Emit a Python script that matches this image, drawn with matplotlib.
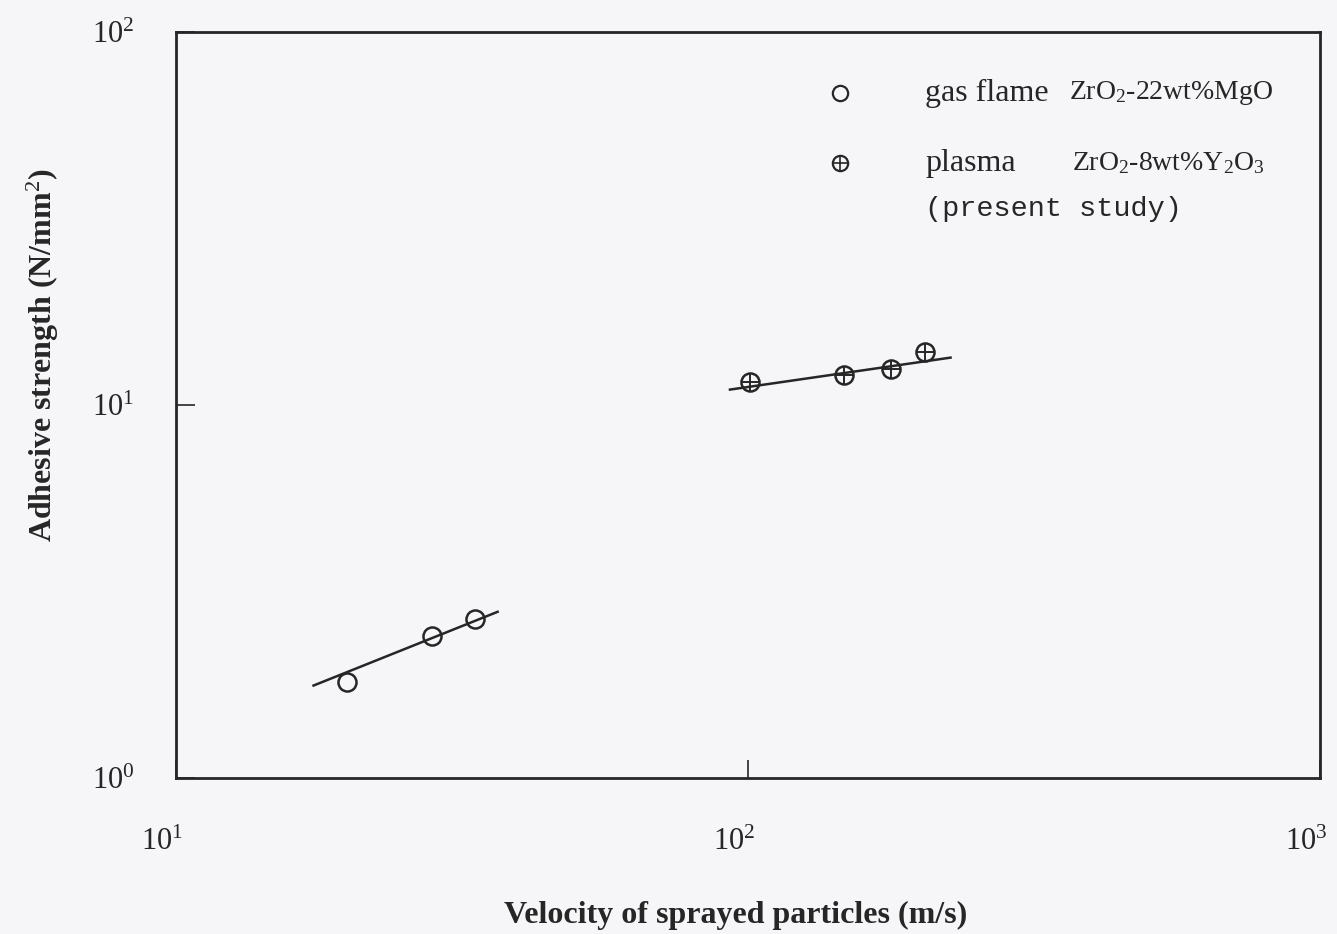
import matplotlib
matplotlib.use("Agg")
import matplotlib.pyplot as plt
import matplotlib.transforms as mtransforms

plt.rcParams['font.family'] = ['Liberation Serif', 'DejaVu Serif']
plt.rcParams['mathtext.fontset'] = 'custom'
plt.rcParams['mathtext.rm'] = 'Liberation Serif'
plt.rcParams['mathtext.it'] = 'Liberation Serif:italic'
plt.rcParams['mathtext.bf'] = 'Liberation Serif:bold'

# gas flame ZrO2-22wt%MgO
gas_v = [19.9, 28.0, 33.3]
gas_s = [1.81, 2.40, 2.67]
gas_fit_v = [17.4, 36.5]
gas_fit_s = [1.77, 2.79]

# plasma ZrO2-8wt%Y2O3 (present study)
plasma_v = [101, 147, 178, 204]
plasma_s = [11.5, 12.0, 12.5, 13.9]
plasma_fit_v = [93, 226]
plasma_fit_s = [11.0, 13.4]

ink = '#262626'
paper = '#f6f6f8'

fig = plt.figure(figsize=(13.37, 9.34), dpi=100, facecolor=paper)
ax = fig.add_axes([0.1316, 0.167, 0.8557, 0.7987], facecolor=paper)
ax.set_xscale('log')
ax.set_yscale('log')
ax.set_xlim(10, 1000)
ax.set_ylim(1, 100)

# fitted lines
ax.plot(gas_fit_v, gas_fit_s, color=ink, lw=1.8)
ax.plot(plasma_fit_v, plasma_fit_s, color=ink, lw=1.8)

# data points
ax.plot(gas_v, gas_s, 'o', ms=13, mfc='none', mec=ink, mew=1.8)
ax.plot(plasma_v, plasma_s, 'o', ms=13, mfc='none', mec=ink, mew=1.8)
ax.plot(plasma_v, plasma_s, '+', ms=13, mec=ink, mew=1.4)

for s in ax.spines.values():
    s.set_linewidth(2.0)
    s.set_color(ink)

ax.set_xticks([10, 100, 1000])
ax.set_xticklabels(['10$^1$', '10$^2$', '10$^3$'])
ax.set_yticks([1, 10, 100])
ax.set_yticklabels(['10$^0$', '10$^1$', '10$^2$'])
ax.minorticks_off()
ax.tick_params(axis='x', direction='in', length=13, width=1.2, color=ink,
               labelsize=22, pad=36, labelcolor=ink)
ax.tick_params(axis='y', direction='in', length=14, width=1.2, color=ink,
               labelsize=22, pad=30, labelcolor=ink)

# x tick labels sit a little left of their ticks in the original
shift = mtransforms.ScaledTranslation(-14 / 100, 0, fig.dpi_scale_trans)
for lab in ax.get_xticklabels():
    lab.set_transform(lab.get_transform() + shift)

# legend
ax.plot([0.580], [0.918], 'o', ms=11, mfc='none', mec=ink, mew=1.6,
        transform=ax.transAxes, clip_on=False)
ax.plot([0.580], [0.824], 'o', ms=11, mfc='none', mec=ink, mew=1.6,
        transform=ax.transAxes, clip_on=False)
ax.plot([0.580], [0.824], '+', ms=11, mec=ink, mew=1.2,
        transform=ax.transAxes, clip_on=False)
ax.text(0.655, 0.918, 'gas flame', transform=ax.transAxes, fontsize=23,
        va='center', ha='left', color=ink)
ax.text(0.781, 0.918, 'ZrO$_2$-22wt%MgO', transform=ax.transAxes, fontsize=20,
        va='center', ha='left', color=ink)
ax.text(0.655, 0.824, 'plasma', transform=ax.transAxes, fontsize=23,
        va='center', ha='left', color=ink)
ax.text(0.783, 0.824, 'ZrO$_2$-8wt%Y$_2$O$_3$', transform=ax.transAxes, fontsize=20,
        va='center', ha='left', color=ink)
ax.text(0.655, 0.763, '(present study)', transform=ax.transAxes, fontsize=20.5,
        family='Liberation Mono', va='center', ha='left', color=ink)

fig.text(0.550, 0.020, 'Velocity of sprayed particles (m/s)', fontsize=23,
         fontweight='bold', ha='center', va='center', color=ink)
fig.text(0.032, 0.620, 'Adhesive strength (N/mm$^2$)', fontsize=23,
         fontweight='bold', rotation=90, ha='center', va='center', color=ink)

fig.savefig('out.png', dpi=100, facecolor=paper)
